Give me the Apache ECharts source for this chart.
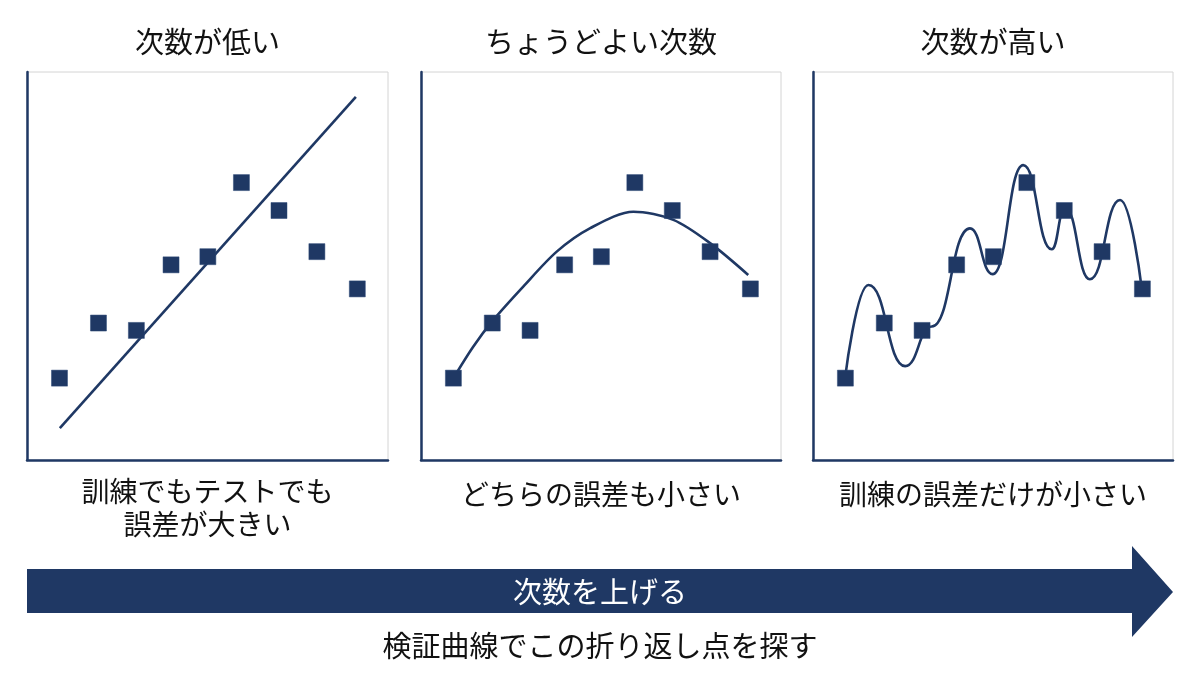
<!DOCTYPE html>
<html>
<head>
<meta charset="utf-8">
<script src="https://cdn.jsdelivr.net/npm/echarts@6/dist/echarts.min.js"></script>
<style>
  html, body { margin: 0; padding: 0; background: #ffffff; }
  #chart { width: 1200px; height: 675px; }
</style>
</head>
<body>
<div id="chart"></div>
<script>
// ---- data ----
const panelTitles = ['次数が低い', 'ちょうどよい次数', '次数が高い'];
const panelCaptions = ['訓練でもテストでも\n誤差が大きい', 'どちらの誤差も小さい', '訓練の誤差だけが小さい'];
const arrowLabel = '次数を上げる';
const footerText = '検証曲線でこの折り返し点を探す';

// observed samples (same in all three panels)
const sampleX = [0.90, 1.98, 3.03, 3.99, 5.01, 5.94, 6.98, 8.03, 9.15];
const sampleY = [2.11, 3.53, 3.34, 5.03, 5.24, 7.15, 6.43, 5.37, 4.41];

// fitted curves
const lowDegreeFit = [[0.91, 0.82], [9.11, 9.36]];
const goodDegreeFit = [[0.90, 2.11], [1.45, 2.92], [2.01, 3.61], [2.84, 4.47], [3.77, 5.37],
                       [4.69, 5.97], [5.90, 6.40], [7.01, 6.19], [8.03, 5.59], [9.09, 4.77]];
// turning points of the wiggly high-degree curve
const highDegreeFit = [[0.89, 2.11], [1.54, 4.51], [2.56, 2.42], [3.30, 3.44], [4.36, 5.97],
                       [4.99, 4.79], [5.84, 7.60], [6.63, 5.43], [7.00, 6.50], [7.69, 4.66],
                       [8.53, 6.70], [9.13, 4.43]];

// ---- styling ----
const NAVY = '#1f3864';
const FONT = '"Noto Sans CJK JP", "Noto Sans", sans-serif';
const gridLefts = [27, 421, 813];
const gridWidths = [361, 360, 360];
const gridTop = 72, gridHeight = 388;

const points = sampleX.map((x, i) => [x, sampleY[i]]);
const fits = [lowDegreeFit, goodDegreeFit, highDegreeFit];
const smoothing = [false, 0.3, 0.5];

const chart = echarts.init(document.getElementById('chart'), null, { renderer: 'canvas' });

const grids = [], xAxes = [], yAxes = [], series = [], graphics = [];
for (let p = 0; p < 3; p++) {
  grids.push({
    left: gridLefts[p], top: gridTop, width: gridWidths[p], height: gridHeight,
    show: true, borderColor: '#d4d4d4', borderWidth: 1, backgroundColor: '#ffffff'
  });
  const axisCommon = {
    type: 'value', min: 0, max: 10, gridIndex: p,
    axisLine: { show: true, onZero: false, lineStyle: { color: NAVY, width: 2.5 } },
    axisTick: { show: false }, axisLabel: { show: false }, splitLine: { show: false }
  };
  xAxes.push(Object.assign({}, axisCommon));
  yAxes.push(Object.assign({}, axisCommon));
  series.push({
    type: 'line', xAxisIndex: p, yAxisIndex: p, data: fits[p],
    showSymbol: false, symbol: 'none',
    smooth: smoothing[p],
    smoothMonotone: p === 2 ? 'x' : undefined,
    lineStyle: { color: NAVY, width: 2.6 },
    z: 2, silent: true, animation: false
  });
  series.push({
    type: 'scatter', xAxisIndex: p, yAxisIndex: p, data: points,
    symbol: 'rect', symbolSize: 16,
    itemStyle: { color: NAVY, opacity: 1, borderColor: '#2c4876', borderWidth: 0.5 },
    z: 3, silent: true, animation: false
  });
  const cx = gridLefts[p] + gridWidths[p] / 2;
  graphics.push({
    type: 'text', x: cx, y: 42,
    style: { text: panelTitles[p], font: '29px ' + FONT, fill: '#111111', align: 'center', verticalAlign: 'middle' }
  });
  graphics.push({
    type: 'text', x: cx, y: p === 0 ? 508 : 494,
    style: { text: panelCaptions[p], font: '28px ' + FONT, fill: '#111111', align: 'center', verticalAlign: 'middle', lineHeight: 33 }
  });
}

// arrow
graphics.push({
  type: 'polygon',
  shape: { points: [[27, 569], [1132, 569], [1132, 546], [1173, 592], [1132, 637], [1132, 613], [27, 613]] },
  style: { fill: NAVY }
});
graphics.push({
  type: 'text', x: 600, y: 592,
  style: { text: arrowLabel, font: '29px ' + FONT, fill: '#ffffff', align: 'center', verticalAlign: 'middle' }
});
graphics.push({
  type: 'text', x: 600, y: 646,
  style: { text: footerText, font: '29px ' + FONT, fill: '#111111', align: 'center', verticalAlign: 'middle' }
});

chart.setOption({
  backgroundColor: '#ffffff',
  animation: false,
  grid: grids, xAxis: xAxes, yAxis: yAxes, series: series,
  graphic: { elements: graphics }
});
</script>
</body>
</html>
